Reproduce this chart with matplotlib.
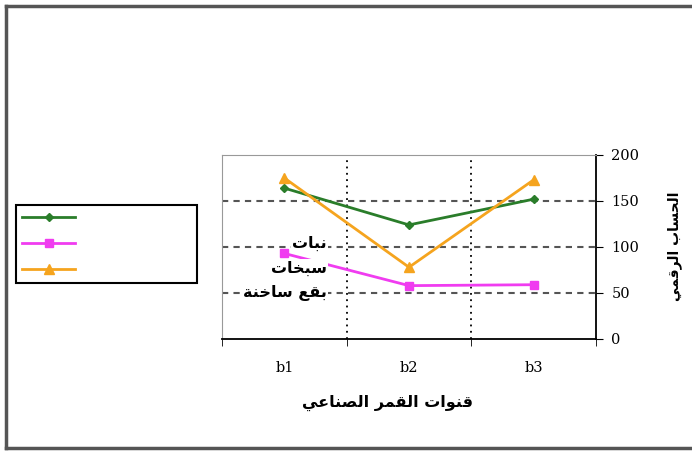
import matplotlib
matplotlib.use("Agg")
import matplotlib.pyplot as plt
from matplotlib.lines import Line2D

# data
categories = ["b1", "b2", "b3"]
green_vals = [164, 124, 152]
pink_vals = [93, 58, 59]
orange_vals = [175, 78, 173]
y_ticks = [0, 50, 100, 150, 200]

# Arabic text, pre-shaped (presentation forms, visual order) since matplotlib has no bidi shaping
# "نبات" / "سبخات" / "بقع ساخنة"
note_lines = [
    "\ufe95\ufe8e\ufe92\ufee7",
    "\ufe95\ufe8e\ufea8\ufe92\ufeb3",
    "\ufe94\ufee8\ufea7\ufe8e\ufeb3 \ufeca\ufed8\ufe91",
]
# "قنوات القمر الصناعي"
x_title = ("\ufef2\ufecb\ufe8e\ufee8\ufebc\ufedf\ufe8d "
           "\ufeae\ufee4\ufed8\ufedf\ufe8d "
           "\ufe95\ufe8d\ufeee\ufee8\ufed7")
# "الحساب الرقمي"
y_title = ("\ufef2\ufee4\ufed7\ufeae\ufedf\ufe8d "
           "\ufe8f\ufe8e\ufeb4\ufea4\ufedf\ufe8d")

W, H = 692, 451
fig = plt.figure(figsize=(W / 100, H / 100), dpi=100)
fig.patch.set_facecolor("white")

ax = fig.add_axes([222 / W, 1 - 339 / H, (596 - 222) / W, (339 - 155) / H])

x = list(range(len(categories)))
ax.plot(x, green_vals, color="#2a7d2a", lw=2, marker="D", ms=4.5, label=" ")
ax.plot(x, pink_vals, color="#f03cf0", lw=2, marker="s", ms=6, label=" ")
ax.plot(x, orange_vals, color="#f5a41e", lw=2, marker="^", ms=7, label=" ")

ax.set_xlim(-0.5, 2.5)
ax.set_ylim(0, 200)
ax.set_xticks(x)
ax.set_xticklabels(categories, family="DejaVu Serif", fontsize=10.5)
ax.set_xticks([-0.5, 0.5, 1.5, 2.5], minor=True)
ax.tick_params(axis="x", which="major", length=0, pad=16)
ax.tick_params(axis="x", which="minor", length=5, direction="out", color="black")

ax.yaxis.tick_right()
ax.set_yticks(y_ticks)
ax.set_yticklabels([str(v) for v in y_ticks], family="DejaVu Serif", fontsize=10.5)
ax.tick_params(axis="y", length=5, direction="out", pad=6, color="black")

for v in y_ticks[1:-1]:
    ax.axhline(v, color="#555555", lw=1.5, ls=(0, (3, 2.5)), zorder=0)
for v in [0.5, 1.5]:
    ax.axvline(v, color="black", lw=1.3, ls=(0, (1, 2.5)), zorder=0)

ax.spines["top"].set_color("#999999")
ax.spines["left"].set_color("#999999")
ax.spines["bottom"].set_color("black")
ax.spines["right"].set_color("black")
ax.spines["bottom"].set_linewidth(1.3)
ax.spines["right"].set_linewidth(1.3)

# labels
for i, line in enumerate(note_lines):
    ax.text(327 / W, 1 - (243 + i * 25) / H, line, transform=fig.transFigure,
            ha="right", va="center", fontsize=11.5, fontweight="bold",
            family="DejaVu Sans", zorder=5,
            bbox=dict(facecolor="white", edgecolor="none", pad=1))
fig.text(387 / W, 1 - 403 / H, x_title, ha="center", va="center",
         fontsize=11.5, fontweight="bold", family="DejaVu Sans")
fig.text(675 / W, 1 - 246 / H, y_title, ha="center", va="center",
         rotation=90, fontsize=10, fontweight="bold", family="DejaVu Sans")

# legend box with empty labels
leg = ax.legend(loc="upper left", bbox_to_anchor=(16 / W, 1 - 205 / H, 181 / W, 0),
                bbox_transform=fig.transFigure, mode="expand", fancybox=False,
                edgecolor="black", framealpha=1, handlelength=3.8,
                labelspacing=0.85, borderpad=0.45, borderaxespad=0, fontsize=10)
leg.get_frame().set_linewidth(1.5)

# outer border (top, left, bottom)
fig.add_artist(Line2D([6 / W, 6 / W], [1 - 448 / H, 1 - 6 / H], color="#555555", lw=2.5))
fig.add_artist(Line2D([6 / W, 1], [1 - 6 / H, 1 - 6 / H], color="#555555", lw=2.5))
fig.add_artist(Line2D([6 / W, 1], [1 - 448 / H, 1 - 448 / H], color="#555555", lw=2.5))

fig.savefig("out.png", dpi=100)
